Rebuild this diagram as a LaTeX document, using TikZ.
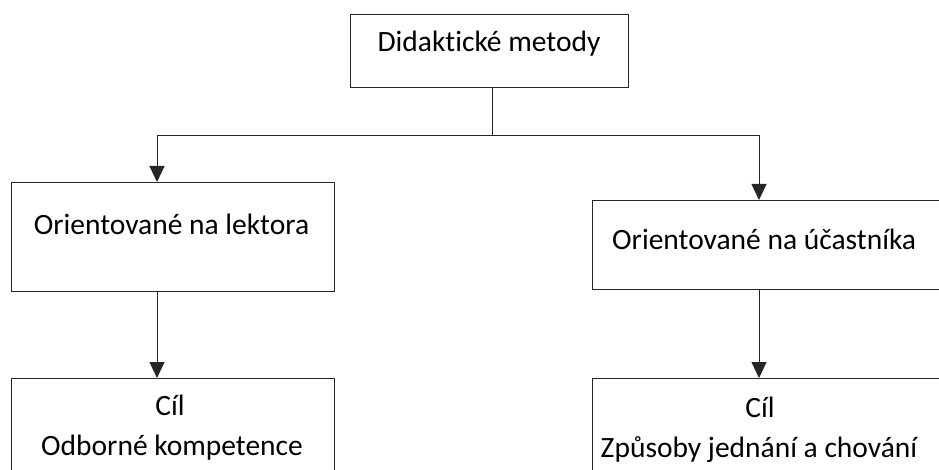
\documentclass[tikz,border=0pt]{standalone}
\usepackage{fontspec}
\setmainfont{Carlito}[Ligatures=NoCommon]
\usetikzlibrary{arrows.meta,calc}
\begin{document}
\begin{tikzpicture}[x=1pt,y=-1pt,
  box/.style={draw=black!85,line width=1pt,rectangle,inner sep=0pt,anchor=north west},
  lbl/.style={font=\fontsize{29.5}{35}\selectfont,inner sep=0pt,anchor=base,text=black},
  conn/.style={draw=black!85,line width=1pt},
  arr/.style={conn,-{Triangle[length=16pt,width=15pt]}}]
\useasboundingbox (0,0) rectangle (939,470);
\clip (0,0) rectangle (939,470);
\node[box,minimum width=278pt,minimum height=73pt] (top) at (350,14) {};
\node[box,minimum width=323pt,minimum height=109pt] (lm) at (11,182) {};
\node[box,minimum width=360pt,minimum height=89pt] (rm) at (592,200) {};
\node[box,minimum width=323pt,minimum height=120pt] (lb) at (11,378) {};
\node[box,minimum width=360pt,minimum height=120pt] (rb) at (592,378) {};
\node[lbl] (ttop) at (489,52) {Didaktické metody};
\node[lbl] (tlm) at (171.5,235) {Orientované na lektora};
\node[lbl,anchor=base west] (trm) at (612,250) {Orientované na účastníka};
\node[lbl] (tlb1) at (170,415) {Cíl};
\node[lbl] (tlb2) at (172,455) {Odborné kompetence};
\node[lbl] (trb1) at (760,417) {Cíl};
\node[lbl] (trb2) at (759,457) {Způsoby jednání a chování};
\coordinate (split) at ($(top.south)+(3,48)$);
\coordinate (lmin) at ($(lm.north west)+(146,0)$);
\coordinate (rmin) at ($(rm.north west)+(167,0)$);
\coordinate (lmout) at ($(lm.south west)+(146,0)$);
\coordinate (rmout) at ($(rm.south west)+(167,0)$);
\coordinate (lbin) at ($(lb.north west)+(146,0)$);
\coordinate (rbin) at ($(rb.north west)+(167,0)$);
\draw[conn] ($(top.south)+(3,0)$) -- (split);
\draw[arr] (split) -| (lmin);
\draw[arr] (split) -| (rmin);
\draw[arr] (lmout) -- (lbin);
\draw[arr] (rmout) -- (rbin);
\end{tikzpicture}
\end{document}
